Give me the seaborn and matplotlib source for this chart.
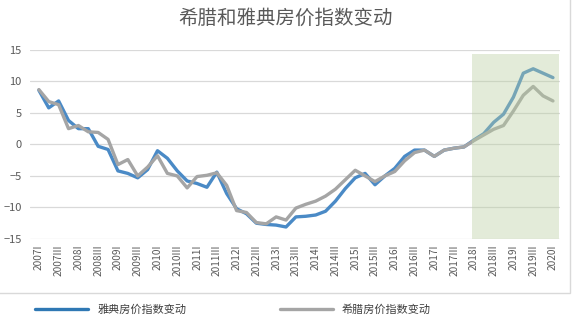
import numpy as np
import pandas as pd
import matplotlib
matplotlib.use("Agg")
import matplotlib.pyplot as plt
import seaborn as sns
from matplotlib.lines import Line2D
from matplotlib.patches import Rectangle

years = list(range(2007, 2021))
quarter_names = ["I", "II", "III", "IV"]
quarters = [f"{y}{q}" for y in years for q in quarter_names][:53]

athens = [8.6, 5.8, 6.9, 3.8, 2.5, 2.5, -0.3, -0.8, -4.2, -4.6, -5.3, -4.0,
          -1.0, -2.2, -4.2, -5.8, -6.2, -6.8, -4.4, -7.8, -10.2, -11.0, -12.5, -12.7,
          -12.8, -13.1, -11.5, -11.4, -11.2, -10.6, -9.0, -7.0, -5.3, -4.6, -6.4, -5.0,
          -3.8, -1.9, -0.9, -0.9, -1.9, -0.9, -0.6, -0.4, 0.7, 1.7, 3.5, 4.8,
          7.5, 11.3, 12.0, 11.3, 10.6]
greece = [8.7, 6.8, 6.3, 2.5, 3.0, 2.0, 1.9, 0.8, -3.2, -2.4, -5.0, -3.6,
          -1.8, -4.6, -5.0, -6.9, -5.1, -4.9, -4.5, -6.5, -10.5, -10.8, -12.4, -12.6,
          -11.5, -12.0, -10.1, -9.5, -9.0, -8.2, -7.1, -5.6, -4.1, -5.0, -5.9, -5.0,
          -4.3, -2.6, -1.3, -0.9, -1.9, -0.9, -0.6, -0.4, 0.6, 1.5, 2.4, 3.0,
          5.3, 7.8, 9.2, 7.7, 6.9]

series_names = ["雅典房价指数变动", "希腊房价指数变动"]
colors = ["#4a8ac6", "#a5a5a5"]
legend_colors = ["#2f78b4", "#a5a5a5"]
title = "希腊和雅典房价指数变动"
forecast_start = "2018I"

df = pd.concat([
    pd.DataFrame({"idx": np.arange(len(quarters)), "value": athens, "series": series_names[0]}),
    pd.DataFrame({"idx": np.arange(len(quarters)), "value": greece, "series": series_names[1]}),
])

sns.set_theme(style="white")
plt.rcParams["font.family"] = ["Noto Sans CJK SC", "DejaVu Sans"]

fig = plt.figure(figsize=(5.76, 3.26), dpi=100)
ax = fig.add_axes([0.052, 0.267, 0.920, 0.580])

sns.lineplot(data=df, x="idx", y="value", hue="series", palette=colors,
             hue_order=series_names, linewidth=2.4, legend=False, ax=ax, zorder=3)

# shaded projection period drawn over the lines
start = quarters.index(forecast_start)
ax.axvspan(start - 0.2, len(quarters) - 0.35, ymin=0, ymax=(14.3 + 15) / 30,
           color="#b9cfa0", alpha=0.4, lw=0, zorder=4)

ax.set_ylim(-15, 15)
ax.set_xlim(-0.9, len(quarters) - 0.3)
ax.set_yticks(np.arange(-15, 16, 5))
ax.yaxis.grid(True, color="#d9d9d9", lw=0.9)
ax.set_axisbelow(True)
for s in ax.spines.values():
    s.set_visible(False)

tick_pos = list(range(0, len(quarters), 2))
ax.set_xticks(tick_pos)
ax.set_xticklabels([quarters[i] for i in tick_pos], rotation=90, fontsize=7.3, color="#595959")
ax.tick_params(axis="y", labelsize=8, labelcolor="#595959", length=0, pad=6)
ax.tick_params(axis="x", length=0, pad=4)
ax.set_xlabel("")
ax.set_ylabel("")

fig.text(0.495, 0.945, title, ha="center", va="center", fontsize=14, color="#595959")

handles = [Line2D([], [], color=legend_colors[0], lw=2.4), Line2D([], [], color=legend_colors[1], lw=2.4)]
fig.legend(handles, series_names, loc="center left", bbox_to_anchor=(35 / 576, 0.05), ncol=2,
           frameon=False, fontsize=8, handlelength=4.8, columnspacing=8.4,
           handletextpad=0.8, borderpad=0, borderaxespad=0, labelcolor="#404040")

fig.add_artist(Rectangle((-0.01, 1 - 293 / 326), 570 / 576 + 0.01, 293 / 326 + 0.01,
                         transform=fig.transFigure, fill=False, edgecolor="#d9d9d9", lw=1))

fig.savefig("out.png", dpi=100)
